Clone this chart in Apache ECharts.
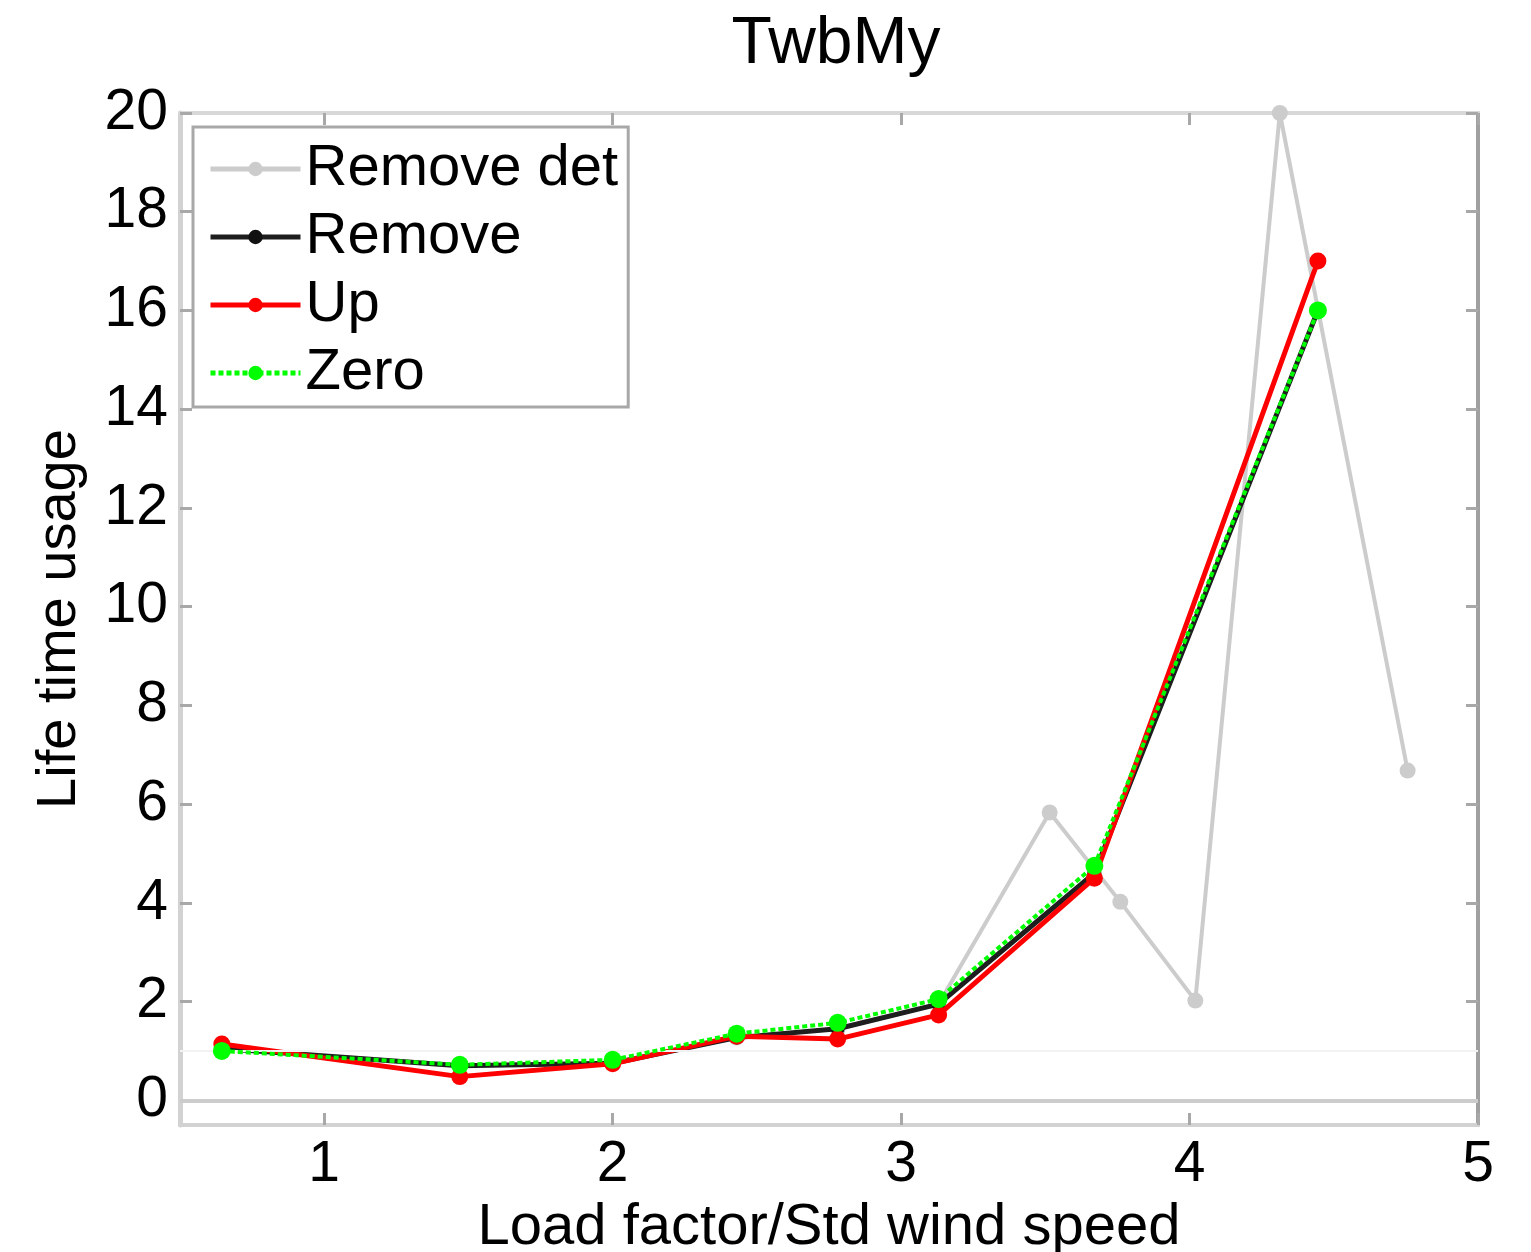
<!DOCTYPE html>
<html>
<head>
<meta charset="utf-8">
<script src="https://cdn.jsdelivr.net/npm/echarts@6/dist/echarts.min.js"></script>
<style>
html,body{margin:0;padding:0;background:#fff;}
#chart{width:1531px;height:1252px;}
</style>
</head>
<body>
<div id="chart"></div>
<script>
var titleText = 'TwbMy';
var xName = 'Load factor/Std wind speed';
var yName = 'Life time usage';
var seriesNames = ['Remove det', 'Remove', 'Up', 'Zero'];

var xMain = [0.645, 1.47, 2.0, 2.43, 2.78, 3.13, 3.67, 4.445];
var xDet = [0.645, 1.47, 2.0, 2.43, 2.78, 3.13, 3.515, 3.76, 4.02, 4.313, 4.756];

var yRemoveDet = [1.05, 0.70, 0.75, 1.27, 1.45, 1.95, 5.83, 4.02, 2.02, 20.0, 6.68];
var yRemove = [1.05, 0.70, 0.75, 1.27, 1.45, 1.95, 4.60, 16.0];
var yUp = [1.14, 0.48, 0.74, 1.30, 1.24, 1.73, 4.50, 17.0];
var yZero = [1.00, 0.72, 0.82, 1.35, 1.57, 2.05, 4.75, 16.0];

var xTicks = [1, 2, 3, 4, 5];
var yTicks = [0, 2, 4, 6, 8, 10, 12, 14, 16, 18, 20];
var refLines = [0, 1];

function pairs(xs, ys) { return xs.map(function (x, i) { return [x, ys[i]]; }); }

var chart = echarts.init(document.getElementById('chart'));
var font = 'Liberation Sans, Arial, sans-serif';
var lightAxis = '#d2d2d2';
var tickColor = '#a8a8a8';

var option = {
  animation: false,
  backgroundColor: '#fff',
  title: {
    text: titleText,
    left: 831,
    textAlign: 'center',
    top: 7,
    textStyle: { fontFamily: font, fontSize: 66, fontWeight: 'normal', color: '#000' }
  },
  legend: {
    left: 193,
    top: 127,
    orient: 'vertical',
    padding: [13, 10, 5, 15],
    itemGap: 10,
    itemWidth: 90,
    itemHeight: 18,
    borderColor: '#a8a8a8',
    borderWidth: 3,
    backgroundColor: '#fff',
    lineStyle: { width: 5 },
    textStyle: { fontFamily: font, fontSize: 58, color: '#000', lineHeight: 58 },
    data: seriesNames
  },
  grid: { left: 180, right: 53, top: 113, bottom: 127, containLabel: false, outerBoundsMode: 'none' },
  xAxis: [{
    type: 'value',
    position: 'bottom',
    min: 0.5, max: 5,
    name: xName,
    nameLocation: 'middle',
    nameGap: 69,
    nameTextStyle: { fontFamily: font, fontSize: 58, color: '#000' },
    axisLine: { show: true, onZero: false, lineStyle: { color: lightAxis, width: 4 } },
    axisTick: { show: true, inside: true, length: 12, customValues: xTicks, lineStyle: { color: tickColor, width: 3 } },
    axisLabel: { show: true, margin: 12, customValues: xTicks, fontFamily: font, fontSize: 57, color: '#000' },
    splitLine: { show: false }
  }, {
    type: 'value',
    position: 'top',
    min: 0.5, max: 5,
    axisLine: { show: true, onZero: false, lineStyle: { color: '#d8d8d8', width: 4 } },
    axisTick: { show: true, inside: true, length: 12, customValues: xTicks, lineStyle: { color: tickColor, width: 3 } },
    axisLabel: { show: false },
    splitLine: { show: false }
  }],
  yAxis: [{
    type: 'value',
    position: 'left',
    min: -0.5, max: 20,
    name: yName,
    nameLocation: 'middle',
    nameGap: 92,
    nameTextStyle: { fontFamily: font, fontSize: 56, color: '#000' },
    axisLine: { show: true, onZero: false, lineStyle: { color: lightAxis, width: 5 } },
    axisTick: { show: true, inside: true, length: 12, customValues: yTicks, lineStyle: { color: tickColor, width: 3 } },
    axisLabel: { show: true, margin: 12, customValues: yTicks, fontFamily: font, fontSize: 57, color: '#000' },
    splitLine: { show: false }
  }, {
    type: 'value',
    position: 'right',
    min: -0.5, max: 20,
    axisLine: { show: true, onZero: false, lineStyle: { color: '#a0a0a0', width: 4 } },
    axisTick: { show: true, inside: true, length: 12, customValues: yTicks, lineStyle: { color: tickColor, width: 3 } },
    axisLabel: { show: false },
    splitLine: { show: false }
  }],
  series: [{
    name: seriesNames[0],
    type: 'line',
    data: pairs(xDet, yRemoveDet),
    symbol: 'circle', symbolSize: 16,
    itemStyle: { color: '#cccccc' },
    lineStyle: { color: '#cccccc', width: 4 },
    z: 2,
    markLine: {
      silent: true,
      symbol: 'none',
      label: { show: false },
      data: [
        { yAxis: refLines[0], lineStyle: { color: '#cccccc', width: 4, type: 'solid' } },
        { yAxis: refLines[1], lineStyle: { color: '#f2f2f2', width: 2, type: 'solid' } }
      ]
    }
  }, {
    name: seriesNames[1],
    type: 'line',
    data: pairs(xMain, yRemove),
    symbol: 'circle', symbolSize: 14,
    itemStyle: { color: '#111111' },
    lineStyle: { color: '#1e1e1e', width: 5 },
    z: 3
  }, {
    name: seriesNames[2],
    type: 'line',
    data: pairs(xMain, yUp),
    symbol: 'circle', symbolSize: 17,
    itemStyle: { color: '#ff0000' },
    lineStyle: { color: '#ff0000', width: 5 },
    z: 4
  }, {
    name: seriesNames[3],
    type: 'line',
    data: pairs(xMain, yZero),
    symbol: 'circle', symbolSize: 18,
    itemStyle: { color: '#00ff00' },
    lineStyle: { color: '#00ff00', width: 4, type: [5, 3] },
    z: 5
  }]
};
chart.setOption(option);
</script>
</body>
</html>
